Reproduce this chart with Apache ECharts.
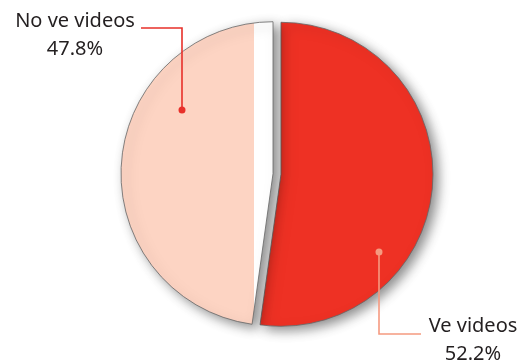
<!DOCTYPE html>
<html>
<head>
<meta charset="utf-8">
<script src="https://cdn.jsdelivr.net/npm/echarts@6/dist/echarts.min.js"></script>
<style>
  html, body { margin: 0; padding: 0; background: #fff; }
  #chart { width: 525px; height: 363px; }
</style>
</head>
<body>
<div id="chart"></div>
<script>
// Share of respondents who watch videos
const categories = ['Ve videos', 'No ve videos'];
const shares = [52.2, 47.8];
const sliceColors = ['#ee3124', '#fdd4c3'];
const leaderColors = ['#f59a80', '#e8302a'];

// Label anchor dots, leader corners and text positions
const labelSpots = [
  { dot: [379, 252], corner: [379, 334], end: [421, 334], text: [473, 340] },
  { dot: [182, 110], corner: [182, 28], end: [141, 28], text: [75, 35] }
];

const chart = echarts.init(document.getElementById('chart'), null, { renderer: 'canvas' });

const lightFill = new echarts.graphic.LinearGradient(0, 0, 1, 0, [
  { offset: 0, color: sliceColors[1] },
  { offset: 0.874, color: sliceColors[1] },
  { offset: 0.876, color: '#ffffff' },
  { offset: 1, color: '#ffffff' }
]);

const labelGraphics = [];
labelSpots.forEach((s, i) => {
  labelGraphics.push({
    type: 'polyline',
    shape: { points: [s.dot, s.corner, s.end] },
    style: { stroke: leaderColors[i], lineWidth: 1.6, fill: null },
    z: 100
  });
  labelGraphics.push({
    type: 'circle',
    shape: { cx: s.dot[0], cy: s.dot[1], r: 3.5 },
    style: { fill: leaderColors[i] },
    z: 101
  });
  labelGraphics.push({
    type: 'text',
    x: s.text[0],
    y: s.text[1],
    style: {
      text: categories[i] + '\n' + shares[i].toFixed(1) + '%',
      fill: '#231f20',
      fontFamily: 'Noto Sans',
      fontSize: 20,
      lineHeight: 28,
      align: 'center',
      verticalAlign: 'middle'
    },
    z: 101
  });
});

chart.setOption({
  animation: false,
  backgroundColor: '#ffffff',
  series: [{
    type: 'pie',
    center: [277, 174],
    radius: 152,
    startAngle: 90,
    clockwise: true,
    selectedMode: 'multiple',
    selectedOffset: 4,
    emphasis: { disabled: true },
    label: { show: false },
    labelLine: { show: false },
    itemStyle: {
      borderColor: '#666666',
      borderWidth: 0.8,
      shadowBlur: 12,
      shadowColor: 'rgba(0,0,0,0.45)',
      shadowOffsetX: 5,
      shadowOffsetY: 4
    },
    data: categories.map((name, i) => ({
      name,
      value: shares[i],
      selected: true,
      itemStyle: { color: i === 1 ? lightFill : sliceColors[i] },
      select: { itemStyle: { color: i === 1 ? lightFill : sliceColors[i] } }
    }))
  }],
  graphic: labelGraphics
});
</script>
</body>
</html>
